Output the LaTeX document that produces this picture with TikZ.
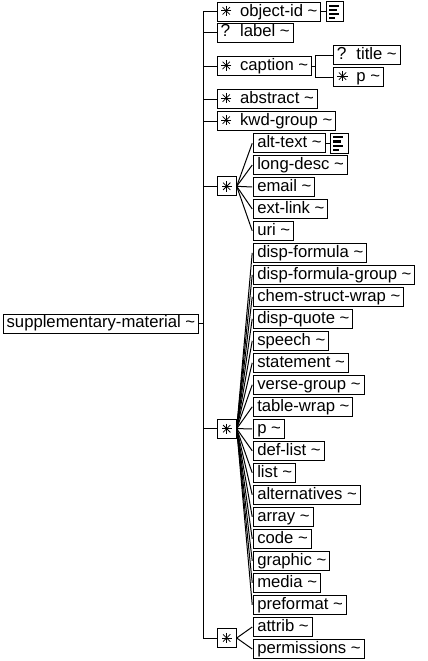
\documentclass[tikz,border=0pt]{standalone}
\usepackage{fontspec}
\setmainfont{Liberation Sans}
\newcommand\spk{\tikz[baseline=-0.6ex,x=0.75pt,y=0.75pt]{\foreach \a in {0,45,90,135} \draw[line width=0.55pt] (\a:5.2)--(\a+180:5.2);}}
\newcommand\qm{{\fontsize{13}{14}\selectfont ?}}
\begin{document}
\begin{tikzpicture}[x=0.75pt,y=-0.75pt,
  el/.style={draw, anchor=west, inner xsep=2.6pt, inner ysep=0pt, text height=9.4pt, text depth=2.8pt, minimum height=14.25pt,
    font=\fontsize{12.5}{14}\selectfont, line width=0.75pt},
  chbox/.style={draw, anchor=west, inner sep=0pt, minimum size=14.25pt, line width=0.75pt},
  docbox/.style={draw, anchor=west, inner sep=0pt, minimum width=13pt, minimum height=15pt, line width=0.75pt},
  conn/.style={line width=0.75pt}]
\useasboundingbox (0,0) rectangle (428,661);
\newcommand\sym[1]{\makebox[14.6pt][l]{#1}}
% root
\node[el] (root) at (2.7,323.5) {supplementary-material \textasciitilde};
% sequence children
\node[el] (objid) at (216.7,11.7) {\sym{\spk}object-id \textasciitilde};
\node[el] (label) at (216.7,32.5) {\sym{\qm}label \textasciitilde};
\node[el] (caption) at (216.7,66.3) {\sym{\spk}caption \textasciitilde};
\node[el] (abstract) at (216.7,99) {\sym{\spk}abstract \textasciitilde};
\node[el] (kwd) at (216.7,121) {\sym{\spk}kwd-group \textasciitilde};
\node[chbox] (ch1) at (216.7,186.3) {\spk};
\node[chbox] (ch2) at (216.7,428.7) {\spk};
\node[chbox] (ch3) at (216.7,638) {\spk};
% caption children
\node[el] (title) at (333,55) {\sym{\qm}title \textasciitilde};
\node[el] (capp) at (333,77) {\sym{\spk}p \textasciitilde};
% doc icons
\node[docbox] (doc1) at ([xshift=3.5]objid.east) {};
% choice 1 children
\node[el] (alttext) at (253.3,143.3) {alt-text \textasciitilde};
\node[el] (longdesc) at (253.3,165) {long-desc \textasciitilde};
\node[el] (email) at (253.3,187) {email \textasciitilde};
\node[el] (extlink) at (253.3,209) {ext-link \textasciitilde};
\node[el] (uri) at (253.3,230.8) {uri \textasciitilde};
\node[docbox] (doc2) at ([xshift=3.5]alttext.east) {};
% choice 2 children
\foreach \t [count=\i from 0] in {disp-formula,disp-formula-group,chem-struct-wrap,disp-quote,speech,statement,verse-group,table-wrap,p,def-list,list,alternatives,array,code,graphic,media,preformat}
  \node[el] (c2n\i) at (253.3,252.8+22*\i) {\t\ \textasciitilde};
% choice 3 children
\node[el] (attrib) at (253.3,627) {attrib \textasciitilde};
\node[el] (perm) at (253.3,649) {permissions \textasciitilde};
% doc icon lines
\foreach \d in {doc1,doc2}{
  \foreach \yy/\ll in {4.5/10,8.7/8,12.9/10,17/6}
    \draw[line width=1.6pt] ([shift={(3,\yy)}]\d.north west) -- ++(\ll,0);
}
% trunk
\draw[conn] (root.east) -- ++(4,0) coordinate (t);
\draw[conn] (t |- objid.west) -- (t |- ch3.west);
\foreach \n in {objid,label,caption,abstract,kwd,ch1,ch2,ch3}
  \draw[conn] (t |- \n.west) -- (\n.west);
% caption branch
\draw[conn] (caption.east) -- ++(3,0) coordinate (ct);
\draw[conn] (ct |- title.west) -- (ct |- capp.west);
\draw[conn] (ct |- title.west) -- (title.west);
\draw[conn] (ct |- capp.west) -- (capp.west);
% doc connectors
\draw[conn] (objid.east) -- (doc1.west);
\draw[conn] (alttext.east) -- (doc2.west);
% choice fans
\foreach \n in {alttext,longdesc,email,extlink,uri}
  \draw[conn] (ch1.east) -- ([xshift=-0.8]\n.west);
\foreach \i in {0,...,16}
  \draw[conn] (ch2.east) -- ([xshift=-0.8]c2n\i.west);
\foreach \n in {attrib,perm}
  \draw[conn] (ch3.east) -- ([xshift=-0.8]\n.west);
\end{tikzpicture}
\end{document}
